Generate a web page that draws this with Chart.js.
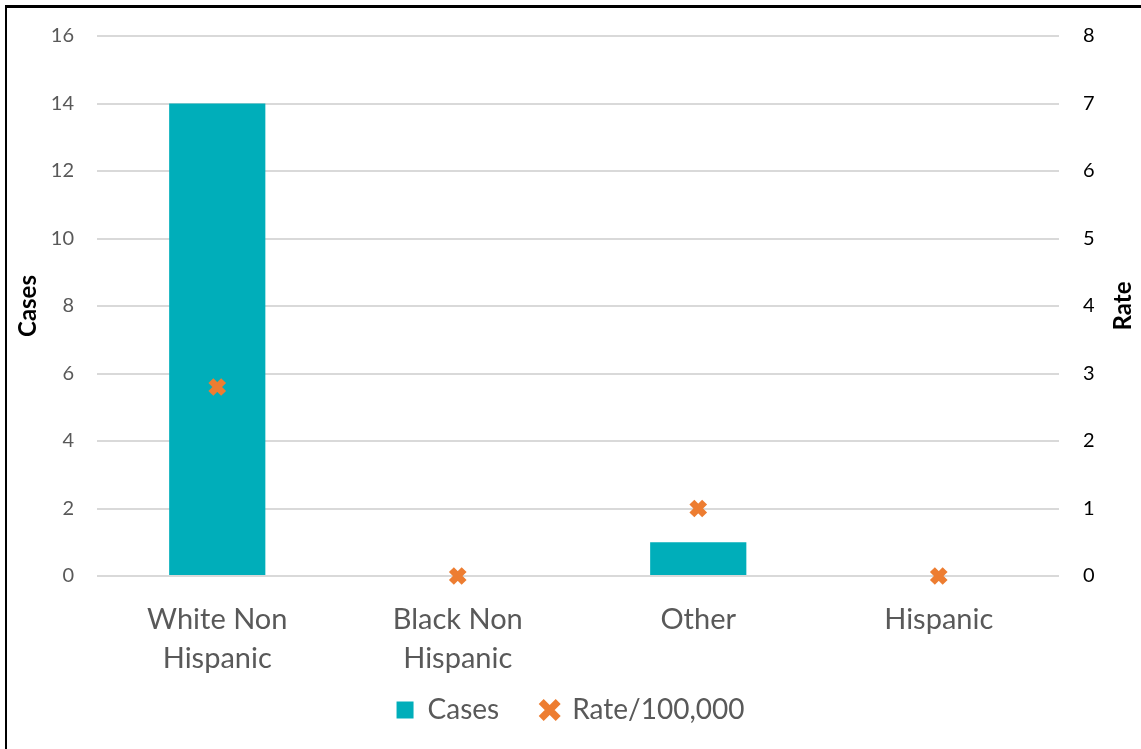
<!DOCTYPE html>
<html>
<head>
<meta charset="utf-8">
<script src="https://cdn.jsdelivr.net/npm/chart.js@4.4.1/dist/chart.umd.min.js"></script>
<style>
  html, body { margin: 0; padding: 0; overflow: hidden; background: #fff; }
  #wrap { position: absolute; left: 0; top: 0; width: 1141px; height: 749px; }
  #frame { position: absolute; left: 5px; top: 5px; width: 2000px; height: 2000px;
           border-left: 2px solid #000; border-top: 3px solid #000; pointer-events: none; }
</style>
</head>
<body>
<div id="wrap"><canvas id="chart" width="1141" height="749"></canvas></div>
<div id="frame"></div>
<script>
// data
const groups = [['White Non', 'Hispanic'], ['Black Non', 'Hispanic'], 'Other', 'Hispanic'];
const cases = [14, 0, 1, 0];
const rates = [2.8, 0, 1.0, 0];
const casesTicks = [0, 2, 4, 6, 8, 10, 12, 14, 16];
const rateTicks = [0, 1, 2, 3, 4, 5, 6, 7, 8];

const FONT = 'Lato, "Open Sans", sans-serif';
const LEGEND_FONT = 28;
const LEGEND_PAD = 42;
const BOTTOM_PAD = 15;

// Right axis title reads bottom-to-top, like the left one
const rightTitle = {
    id: 'rightTitle',
    afterLayout(chart) {
        // let the two-line category labels run past the x box instead of being clipped
        chart.scales.x.bottom = chart.height;
    },
    afterDraw(chart) {
        const ctx = chart.ctx;
        const area = chart.chartArea;
        ctx.save();
        ctx.translate(1123, (area.top + area.bottom) / 2);
        ctx.rotate(-Math.PI / 2);
        ctx.font = 'bold 24px ' + FONT;
        ctx.fillStyle = '#000';
        ctx.textAlign = 'center';
        ctx.textBaseline = 'middle';
        ctx.fillText('Rate', 0, 0);
        ctx.restore();
    }
};

new Chart(document.getElementById('chart').getContext('2d'), {
    data: {
        labels: groups,
        datasets: [{
            type: 'bar',
            label: 'Cases',
            data: cases,
            backgroundColor: '#00AEBA',
            borderWidth: 0,
            yAxisID: 'y',
            order: 2,
            pointStyle: 'rect',
            categoryPercentage: 0.8,
            barPercentage: 0.5
        }, {
            type: 'line',
            label: 'Rate/100,000',
            data: rates,
            yAxisID: 'y1',
            showLine: false,
            clip: false,
            order: 1,
            pointStyle: 'crossRot',
            pointRadius: 9,
            pointHoverRadius: 9,
            pointBorderWidth: 7,
            borderWidth: 7,
            borderColor: '#ED7D31',
            backgroundColor: '#ED7D31'
        }]
    },
    options: {
        responsive: false,
        animation: false,
        layout: { padding: { top: 36, bottom: BOTTOM_PAD, left: 0, right: 0 } },
        plugins: {
            tooltip: { enabled: false },
            legend: {
                position: 'bottom',
                labels: {
                    usePointStyle: true,
                    boxHeight: 17,
                    boxWidth: 17,
                    padding: LEGEND_PAD,
                    color: '#595959',
                    font: { family: FONT, size: LEGEND_FONT },
                    sort: (a, b) => a.datasetIndex - b.datasetIndex
                }
            }
        },
        scales: {
            x: {
                grid: { display: false },
                border: { display: false },
                ticks: { color: '#595959', font: { family: FONT, size: 29, lineHeight: 1.35 }, padding: 16, maxRotation: 0 },
                afterFit(scale) {
                    // legend top sits at canvas height - bottom pad - legend height
                    const legendTop = 749 - BOTTOM_PAD - (LEGEND_FONT + LEGEND_PAD + 10);
                    scale.height = legendTop - 576;
                }
            },
            y: {
                position: 'left',
                min: 0, max: 16,
                afterBuildTicks(scale) { scale.ticks = casesTicks.map(v => ({ value: v })); },
                grid: { color: '#D9D9D9', lineWidth: 2, drawTicks: false },
                border: { display: false },
                ticks: { color: '#595959', font: { family: FONT, size: 20 }, padding: 23 },
                title: { display: true, text: 'Cases', color: '#000', font: { family: FONT, size: 24, weight: 'bold' }, padding: { top: 14, bottom: 0 } },
                afterFit(scale) { scale.width = 97; }
            },
            y1: {
                position: 'right',
                min: 0, max: 8,
                afterBuildTicks(scale) { scale.ticks = rateTicks.map(v => ({ value: v })); },
                grid: { drawOnChartArea: false, drawTicks: false },
                border: { display: false },
                ticks: { color: '#000', font: { family: FONT, size: 20 }, padding: 24 },
                afterFit(scale) { scale.width = 82; }
            }
        }
    },
    plugins: [rightTitle]
});
</script>
</body>
</html>
